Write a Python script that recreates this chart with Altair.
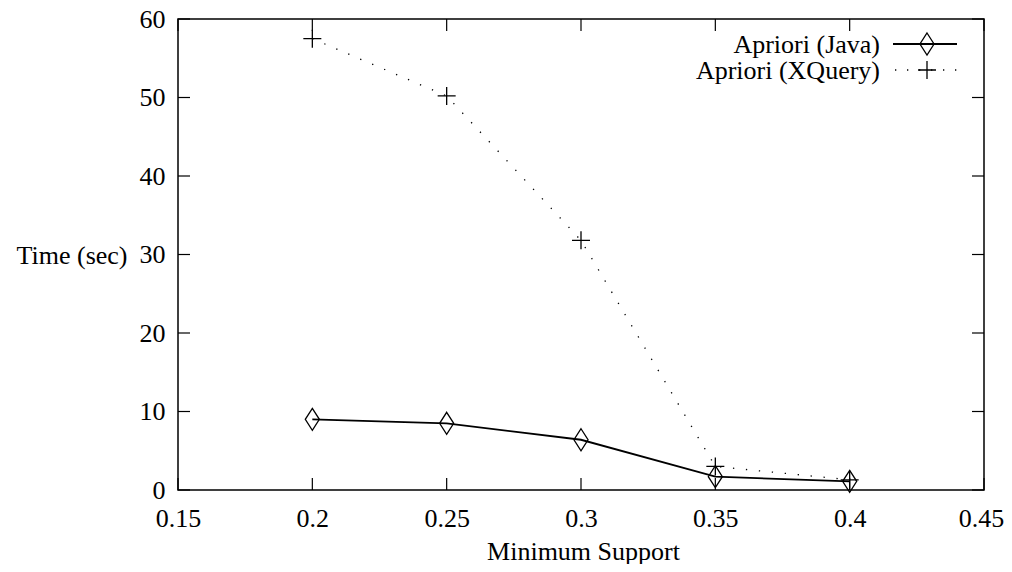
import altair as alt
import pandas as pd

# ---- data ----
support = [0.2, 0.25, 0.3, 0.35, 0.4]
java_time = [9.0, 8.5, 6.4, 1.7, 1.1]
xquery_time = [57.5, 50.2, 31.8, 3.0, 1.3]
series_names = ["Apriori (Java)", "Apriori (XQuery)"]
x_ticks = [0.15, 0.2, 0.25, 0.3, 0.35, 0.4, 0.45]
y_ticks = [0, 10, 20, 30, 40, 50, 60]

FONT = "Liberation Serif"
FS = 26
W, H = 806, 471
TICK = 12

df = pd.DataFrame({
    "support": support * 2,
    "time": java_time + xquery_time,
    "series": [series_names[0]] * len(support) + [series_names[1]] * len(support),
})
xt = pd.DataFrame({"v": x_ticks})
yt = pd.DataFrame({"v": y_ticks})
leg = pd.DataFrame({"series": series_names})

xscale = alt.Scale(domain=[0.15, 0.45], nice=False, zero=False)
yscale = alt.Scale(domain=[0, 60], nice=False)

xaxis = alt.Axis(values=x_ticks, format=".2~f", ticks=False, domain=False, grid=False,
                 labelFont=FONT, labelFontSize=FS, labelColor="#000", labelPadding=15,
                 labelOffset={"condition": {"test": "datum.value > 0.44", "value": -3}, "value": 0},
                 title="Minimum Support", titleFont=FONT, titleFontSize=FS, titleFontWeight="normal",
                 titleColor="#000", titleBaseline="alphabetic", titleX=405, titleY=69,
                 labelFlush=False)
yaxis = alt.Axis(values=y_ticks, format="d", ticks=False, domain=False, grid=False,
                 labelFont=FONT, labelFontSize=FS, labelColor="#000", labelPadding=13,
                 title="Time (sec)", titleFont=FONT, titleFontSize=FS, titleFontWeight="normal",
                 titleColor="#000", titleAngle=0, titleAlign="right", titleBaseline="alphabetic",
                 titleX=-51, titleY=244, labelFlush=False)

java_shape = "M0,-1L0.64,0L0,1L-0.64,0Z"
cross_shape = "M-1,0L1,0M0,-1L0,1"

base = alt.Chart(df)

xq_line = base.transform_filter(alt.datum.series == series_names[1]).mark_line(
    stroke="#000", strokeWidth=1.3, strokeDash=[1.3, 11.7]
).encode(
    x=alt.X("support:Q", scale=xscale, axis=xaxis),
    y=alt.Y("time:Q", scale=yscale, axis=yaxis),
)
xq_pts = base.transform_filter(alt.datum.series == series_names[1]).mark_point(
    shape=cross_shape, size=324, filled=False, stroke="#000", strokeWidth=1.3, opacity=1
).encode(x="support:Q", y="time:Q")

java_line = base.transform_filter(alt.datum.series == series_names[0]).mark_line(
    stroke="#000", strokeWidth=1.8
).encode(x="support:Q", y="time:Q")
java_pts = base.transform_filter(alt.datum.series == series_names[0]).mark_point(
    shape=java_shape, size=484, filled=False, stroke="#000", strokeWidth=1.3, opacity=1
).encode(x="support:Q", y="time:Q")

# inward ticks on all four sides
tick_style = dict(stroke="#000", strokeWidth=1.2)
xt_bottom = alt.Chart(xt).mark_rule(**tick_style).encode(
    x="v:Q", y=alt.value(H), y2=alt.value(H - TICK))
xt_top = alt.Chart(xt).mark_rule(**tick_style).encode(
    x="v:Q", y=alt.value(0), y2=alt.value(TICK))
yt_left = alt.Chart(yt).mark_rule(**tick_style).encode(
    y="v:Q", x=alt.value(0), x2=alt.value(TICK))
yt_right = alt.Chart(yt).mark_rule(**tick_style).encode(
    y="v:Q", x=alt.value(W), x2=alt.value(W - TICK))

# legend (text left of sample, gnuplot style)
LX_TEXT, LX0, LX1, LXM = 702, 715, 779, 749
LY = [25, 51]
leg_layers = []
for i, name in enumerate(series_names):
    d = alt.Chart(leg).transform_filter(alt.datum.series == name)
    leg_layers.append(d.mark_text(font=FONT, fontSize=FS, color="#000", align="right",
                                  baseline="middle").encode(
        text="series:N", x=alt.value(LX_TEXT), y=alt.value(LY[i] + 1)))
    if i == 0:
        leg_layers.append(d.mark_rule(stroke="#000", strokeWidth=1.8).encode(
            x=alt.value(LX0), x2=alt.value(LX1), y=alt.value(LY[i])))
        leg_layers.append(d.mark_point(shape=java_shape, size=484, filled=False, stroke="#000",
                                       strokeWidth=1.3, opacity=1).encode(
            x=alt.value(LXM), y=alt.value(LY[i])))
    else:
        leg_layers.append(d.mark_rule(stroke="#000", strokeWidth=1.3, strokeDash=[1.3, 10.7]).encode(
            x=alt.value(LX0 + 2), x2=alt.value(LX1), y=alt.value(LY[i])))
        leg_layers.append(d.mark_point(shape=cross_shape, size=324, filled=False, stroke="#000",
                                       strokeWidth=1.3, opacity=1).encode(
            x=alt.value(LXM), y=alt.value(LY[i])))

chart = alt.layer(
    xq_line, xq_pts, java_line, java_pts,
    xt_bottom, xt_top, yt_left, yt_right,
    *leg_layers
).properties(
    width=W, height=H,
    padding={"left": 170, "top": 11, "right": 20, "bottom": 74},
    autosize=alt.AutoSizeParams(type="none"),
    background="white",
).configure_view(stroke="#000", strokeWidth=1.5)

chart.save("out.html", embed_options={"renderer": "svg", "actions": False})
